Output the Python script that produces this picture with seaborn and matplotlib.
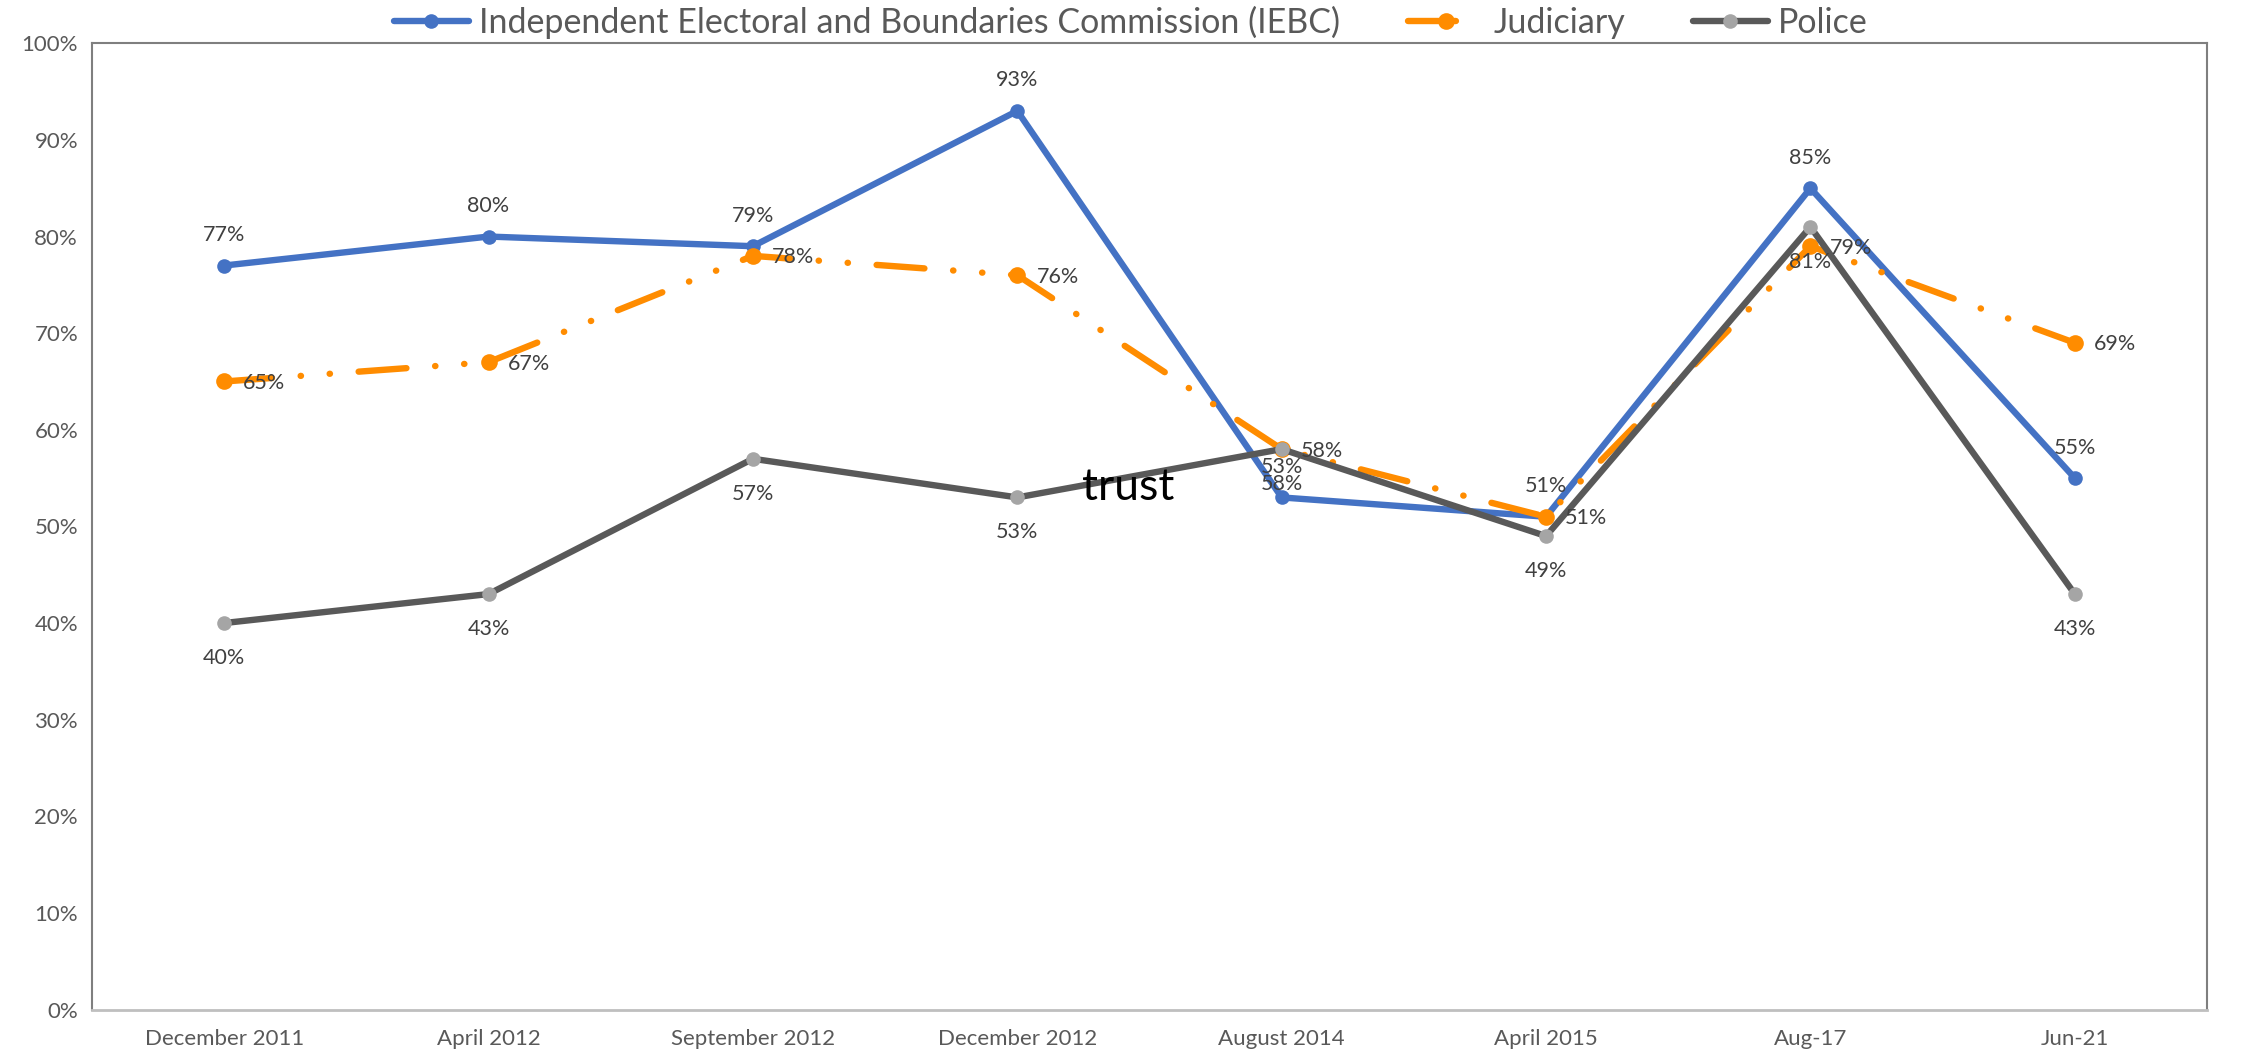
import pandas as pd
import matplotlib.pyplot as plt
import seaborn as sns

# dane
periods = ["December 2011", "April 2012", "September 2012", "December 2012",
           "August 2014", "April 2015", "Aug-17", "Jun-21"]
iebc = [77, 80, 79, 93, 53, 51, 85, 55]
judiciary = [65, 67, 78, 76, 58, 51, 79, 69]
police = [40, 43, 57, 53, 58, 49, 81, 43]
y_ticks = [0, 10, 20, 30, 40, 50, 60, 70, 80, 90, 100]

sns.set_theme(style="white")
plt.rcParams['font.family'] = ['Lato', 'DejaVu Sans']

df = pd.DataFrame({"period": periods, "IEBC": iebc,
                   "Judiciary": judiciary, "Police": police})

fig = plt.figure(figsize=(22.44, 10.56), dpi=100)
ax = fig.add_axes([0.041, 0.044, 0.9425, 0.915])

lw = 4.6
sns.lineplot(data=df, x="period", y="IEBC", ax=ax, sort=False, color="#4472C4",
             linewidth=lw, marker="o", markersize=10.5, markeredgewidth=0,
             label="Independent Electoral and Boundaries Commission (IEBC)")
sns.lineplot(data=df, x="period", y="Judiciary", ax=ax, sort=False, color="#FF8C00",
             linewidth=lw, marker="o", markersize=12, markeredgewidth=0,
             dashes=False, label="Judiciary")
sns.lineplot(data=df, x="period", y="Police", ax=ax, sort=False, color="#595959",
             linewidth=lw, marker="o", markersize=10.5, markeredgewidth=0,
             markerfacecolor="#A5A5A5", label="Police")

# long dash - dot - dot dla Judiciary
jline = ax.lines[1]
jline.set_linestyle((0, (7.5, 4.5, 0.05, 4.5, 0.05, 4.5)))
jline.set_dash_capstyle("round")
for ln in ax.lines:
    ln.set_solid_capstyle("round")

# etykiety danych
lab = dict(fontsize=15.5, color="#404040", ha="center", va="center")
for i, v in enumerate(iebc):
    ax.annotate(f"{v}%", (i, v), xytext=(0, 22), textcoords="offset points", **lab)
for i, v in enumerate(judiciary):
    ax.annotate(f"{v}%", (i, v), xytext=(29, -1), textcoords="offset points", **lab)
for i, v in enumerate(police):
    ax.annotate(f"{v}%", (i, v), xytext=(0, -25), textcoords="offset points", **lab)

ax.text(3.42, 54, "trust", fontsize=32, color="black", ha="center", va="center")

ax.set_xlim(-0.5, len(periods) - 0.5)
ax.set_ylim(0, 100)
ax.set_yticks(y_ticks)
ax.set_yticklabels([f"{t}%" for t in y_ticks])
ax.set_xlabel("")
ax.set_ylabel("")
ax.tick_params(axis="both", length=0, labelsize=16, colors="#595959", pad=14)
ax.tick_params(axis="y", pad=10)
ax.grid(False)

for s in ["left", "top", "right"]:
    ax.spines[s].set_color("#7F7F7F")
    ax.spines[s].set_linewidth(1.5)
ax.spines["bottom"].set_color("#BFBFBF")
ax.spines["bottom"].set_linewidth(2)

leg = ax.legend(loc="center", bbox_to_anchor=(0.504, 0.979), bbox_transform=fig.transFigure,
                ncol=3, frameon=False, fontsize=24.5, handlelength=2.2, columnspacing=2.0,
                handletextpad=0.3, borderaxespad=0)
for t in leg.get_texts():
    t.set_color("#595959")

fig.savefig("out.png", dpi=100)
